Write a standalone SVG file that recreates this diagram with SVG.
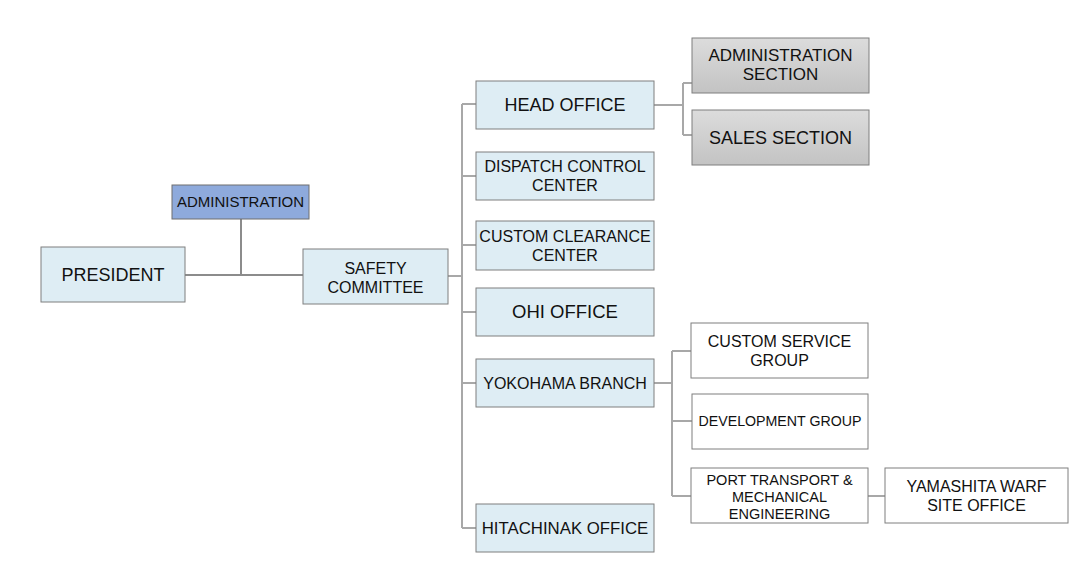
<svg xmlns="http://www.w3.org/2000/svg" width="1089" height="566" viewBox="0 0 1089 566">
<style>
.b{fill:#deedf4;stroke:#7f7f7f;stroke-width:1}
.a{fill:#8eaadc;stroke:#6f6f6f;stroke-width:1}
.g{fill:url(#gr);stroke:#7f7f7f;stroke-width:1}
.w{fill:#ffffff;stroke:#7f7f7f;stroke-width:1}
text{font-family:"Liberation Sans",Arial,sans-serif;fill:#111;text-anchor:middle}
.c{fill:none;stroke:#a8a8a8;stroke-width:2}
.d{fill:none;stroke:#8c8c8c;stroke-width:2}
</style>
<defs>
<linearGradient id="gr" x1="0" y1="0" x2="0" y2="1">
<stop offset="0" stop-color="#dcdcdc"/>
<stop offset="1" stop-color="#c3c3c3"/>
</linearGradient>
</defs>
<rect width="1089" height="566" fill="#ffffff"/>
<g id="connectors">
<path class="d" d="M185 275H303M241 219V275"/>
<path class="c" d="M448 276H462M462 104V528M462 104H476M462 176H476M462 245H476M462 312H476M462 383H476M462 528H476"/>
<path class="c" d="M654 105H683M683 83V135M683 83H692M683 135H692"/>
<path class="c" d="M654 383H672M672 351V496M672 351H691M672 421H692M672 496H691"/>
<path class="c" d="M868 496H885"/>
</g>
<g id="president"><rect class="b" x="41" y="247" width="144" height="55"/><text x="113" y="281" font-size="18">PRESIDENT</text></g>
<g id="administration"><rect class="a" x="172" y="185" width="137" height="34"/><text x="240.5" y="207" font-size="15">ADMINISTRATION</text></g>
<g id="safety"><rect class="b" x="303" y="249" width="145" height="55"/><text x="375.5" y="274" font-size="16">SAFETY</text><text x="375.5" y="293" font-size="16">COMMITTEE</text></g>
<g id="head"><rect class="b" x="476" y="81" width="178" height="48"/><text x="565" y="111" font-size="18">HEAD OFFICE</text></g>
<g id="dispatch"><rect class="b" x="476" y="152" width="178" height="48"/><text x="565" y="172" font-size="16">DISPATCH CONTROL</text><text x="565" y="191" font-size="16">CENTER</text></g>
<g id="clearance"><rect class="b" x="476" y="221" width="178" height="49"/><text x="565" y="242" font-size="16">CUSTOM CLEARANCE</text><text x="565" y="261" font-size="16">CENTER</text></g>
<g id="ohi"><rect class="b" x="476" y="288" width="178" height="48"/><text x="565" y="318" font-size="18.5">OHI OFFICE</text></g>
<g id="yokohama"><rect class="b" x="476" y="359" width="178" height="48"/><text x="565" y="389" font-size="16">YOKOHAMA BRANCH</text></g>
<g id="hitachinak"><rect class="b" x="476" y="504" width="178" height="48"/><text x="565" y="534" font-size="16.8">HITACHINAK OFFICE</text></g>
<g id="adminsection"><rect class="g" x="692" y="38" width="177" height="55"/><text x="780.5" y="61" font-size="17">ADMINISTRATION</text><text x="780.5" y="80" font-size="17">SECTION</text></g>
<g id="sales"><rect class="g" x="692" y="110" width="177" height="55"/><text x="780.5" y="144" font-size="18">SALES SECTION</text></g>
<g id="customservice"><rect class="w" x="691" y="323" width="177" height="55"/><text x="779.5" y="347" font-size="16">CUSTOM SERVICE</text><text x="779.5" y="366" font-size="16">GROUP</text></g>
<g id="development"><rect class="w" x="692" y="394" width="176" height="55"/><text x="780" y="426" font-size="14.2">DEVELOPMENT GROUP</text></g>
<g id="porttransport"><rect class="w" x="691" y="468" width="177" height="55"/><text x="779.5" y="485" font-size="14.5">PORT TRANSPORT &amp;</text><text x="779.5" y="502" font-size="14.5">MECHANICAL</text><text x="779.5" y="519" font-size="14.5">ENGINEERING</text></g>
<g id="yamashita"><rect class="w" x="885" y="468" width="183" height="55"/><text x="976.5" y="492" font-size="16">YAMASHITA WARF</text><text x="976.5" y="511" font-size="16">SITE OFFICE</text></g>
</svg>
